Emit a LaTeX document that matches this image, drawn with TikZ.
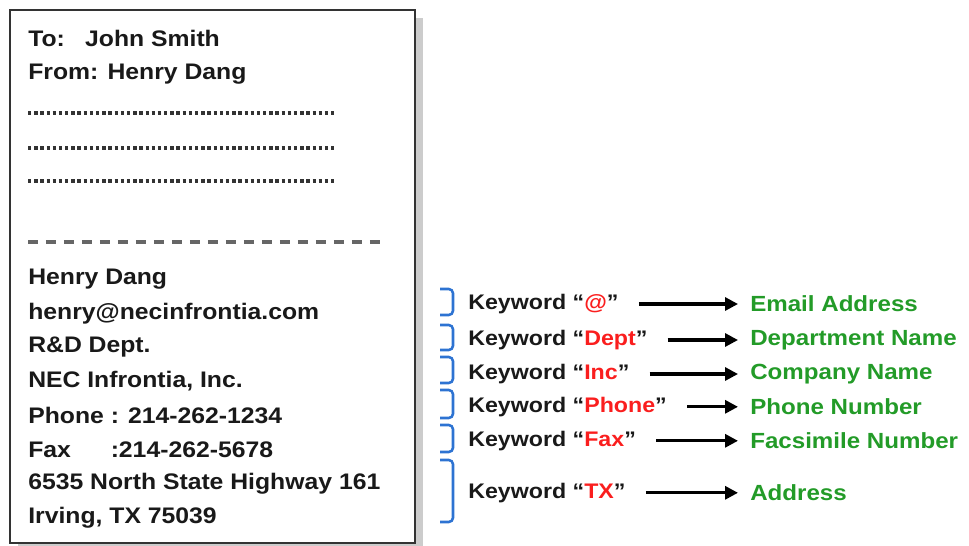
\documentclass[tikz,border=0pt]{standalone}
\usepackage{fontspec}
\setmainfont{Liberation Sans}[FakeStretch=1.1]
\usepackage{xcolor}
\usetikzlibrary{arrows.meta,positioning}
\definecolor{kwred}{RGB}{250,30,30}
\definecolor{fdgreen}{RGB}{35,155,40}
\definecolor{brblue}{RGB}{45,115,210}

\begin{document}
\begin{tikzpicture}[every node/.style={font=\bfseries\fontsize{16}{19}\selectfont, inner sep=0pt, text=black!90},
  kw/.style={font=\bfseries\fontsize{15}{18}\selectfont},
  fd/.style={font=\bfseries\fontsize{15.6}{18}\selectfont, text=fdgreen},
  arr/.style={line width=2.2pt, -{Triangle[length=0.32cm,width=0.32cm]}, shorten <=0.5cm, shorten >=0.3cm},
  brk/.style={line width=1.8pt, draw=brblue, rounded corners=3pt}]
  \useasboundingbox (0,0) rectangle (24.225,-13.625);
  % card with its shadow
  \fill[gray!40] (0.45,-0.45) rectangle (10.575,-13.775);
  \draw[line width=1.6pt, draw=black!80, fill=white] (0.25,-0.25) rectangle (10.375,-13.575);
  \node[anchor=west] (to) at (0.7,-0.95) {To:\hspace{0.9em}John Smith};
  \node[anchor=west] (from) at (0.7,-1.85) {From: Henry Dang};
  \foreach \y in {-2.825,-3.7,-4.525}
    \draw[line width=2.4pt, black!80, dash pattern=on 2.4pt off 2pt] (0.7,\y) -- (8.4,\y);
  \draw[line width=3.2pt, black!60, dash pattern=on 7pt off 5.8pt] (0.7,-6.05) -- (9.575,-6.05);
  \foreach \t [count=\i from 0] in {Henry Dang, henry@necinfrontia.com, R\&D Dept., {NEC Infrontia, Inc.},
      Phone : 214-262-1234, \rlap{Fax}\phantom{Phone }:214-262-5678, 6535 North State Highway 161, {Irving, TX 75039}}
    \node[anchor=west] (sig\i) at (0.7,-6.98-0.853*\i) {\t};
  % keywords and the fields they find
  \foreach \k/\f/\y/\ya/\yb [count=\i] in {@/Email Address/-7.6/-7.225/-7.875,
      Dept/Department Name/-8.5/-8.125/-8.75,
      Inc/Company Name/-9.35/-8.925/-9.575,
      Phone/Phone Number/-10.17/-9.75/-10.45,
      Fax/Facsimile Number/-11.02/-10.625/-11.3,
      TX/Address/-12.32/-11.5/-13.05} {
    \node[kw, anchor=west] (kw\i) at (11.7,\y) {Keyword “\textcolor{kwred}{\k}”};
    \node[fd, anchor=west] (fd\i) at (18.75,\y) {\f};
    \draw[arr] (kw\i.east) -- (fd\i.west);
    \draw[brk] (11.0,\ya) -- (11.325,\ya) -- (11.325,\yb) -- (11.0,\yb);
  }
\end{tikzpicture}
\end{document}
